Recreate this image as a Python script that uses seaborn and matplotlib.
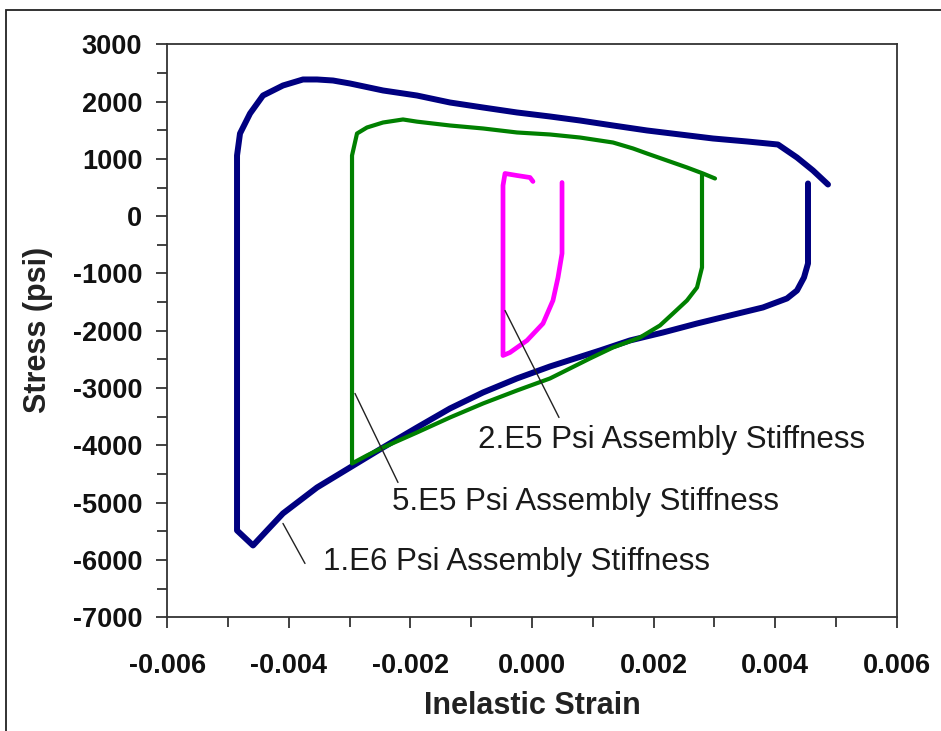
import matplotlib
matplotlib.use("Agg")
import matplotlib.pyplot as plt
import matplotlib.patches as mpatches
from matplotlib.ticker import MultipleLocator, FuncFormatter
import seaborn as sns
import pandas as pd

# ---------------- data ----------------
series_names = ["1.E6 Psi Assembly Stiffness",
                "5.E5 Psi Assembly Stiffness",
                "2.E5 Psi Assembly Stiffness"]

strain_1e6 = [0.004541, 0.004541, 0.004475, 0.004360, 0.004195, 0.003800, 0.003257,
              0.002715, 0.002155, 0.001612, 0.001119, 0.000296, -0.000247, -0.000806,
              -0.001349, -0.001892, -0.002451, -0.002994, -0.003537, -0.004097,
              -0.004360, -0.004590, -0.004853, -0.004853, -0.004804, -0.004639,
              -0.004426, -0.004097, -0.003768, -0.003537, -0.003274, -0.002994,
              -0.002451, -0.001892, -0.001349, -0.000806, -0.000247, 0.000296,
              0.000790, 0.001333, 0.001892, 0.002435, 0.002978, 0.003537, 0.004047,
              0.004360, 0.004623, 0.004870]
stress_1e6 = [571, -825, -1070, -1297, -1436, -1593, -1733,
              -1873, -2030, -2169, -2344, -2623, -2832, -3077,
              -3356, -3688, -4037, -4386, -4735, -5188,
              -5485, -5747, -5485, 1059, 1443, 1792,
              2106, 2281, 2386, 2386, 2368, 2316,
              2194, 2106, 1984, 1897, 1810, 1740,
              1670, 1583, 1496, 1426, 1356, 1304, 1251,
              1024, 798, 553]

strain_5e5 = [0.002797, 0.002797, 0.002715, 0.002550, 0.002320, 0.002106, 0.001777,
              0.001333, 0.000954, 0.000296, -0.000247, -0.000806, -0.001349,
              -0.001892, -0.002451, -0.002715, -0.002961, -0.002961, -0.002879,
              -0.002715, -0.002451, -0.002122, -0.001892, -0.001349, -0.000806,
              -0.000247, 0.000296, 0.000790, 0.001333, 0.001662, 0.001892,
              0.002221, 0.002550, 0.002813, 0.003011]
stress_5e5 = [710, -895, -1244, -1471, -1698, -1907, -2117,
              -2291, -2483, -2832, -3042, -3269, -3513,
              -3775, -4037, -4176, -4316, 1059, 1443,
              1548, 1635, 1688, 1650, 1583, 1531,
              1461, 1426, 1373, 1286, 1182, 1094,
              972, 850, 745, 658]

strain_2e5 = [0.000494, 0.000494, 0.000428, 0.000345, 0.000181, -0.000082,
              -0.000362, -0.000477, -0.000477, -0.000444, -0.000247, -0.000033,
              0.000016]
stress_2e5 = [588, -651, -1070, -1471, -1873, -2169,
              -2379, -2431, 536, 745, 710, 675,
              606]

# leader lines: (point on curve) -> (end near label), and label anchor
leader_from = [(-0.004097, -5363), (-0.002912, -3094), (-0.000444, -1646)]
leader_to = [(-0.003735, -6061), (-0.002205, -4647), (0.000444, -3513)]
label_pos = [(-0.003438, -6044), (-0.002303, -4996), (-0.000888, -3914)]

x_ticks = [-0.006, -0.004, -0.002, 0.000, 0.002, 0.004, 0.006]
y_ticks = [3000, 2000, 1000, 0, -1000, -2000, -3000, -4000, -5000, -6000, -7000]

# ---------------- styling ----------------
colors = ["#000080", "#008000", "#FF00FF"]
widths = [4.3, 3.0, 3.4]

sns.set_theme(style="white")
plt.rcParams["font.family"] = ["Liberation Sans", "DejaVu Sans"]

fig = plt.figure(figsize=(9.41, 7.31), dpi=100)
ax = fig.add_axes([0.1778, 0.1556, 0.7751, 0.7838])

frames = []
for name, sx, sy in zip(series_names,
                        [strain_1e6, strain_5e5, strain_2e5],
                        [stress_1e6, stress_5e5, stress_2e5]):
    frames.append(pd.DataFrame({"strain": sx, "stress": sy, "series": name,
                                "order": range(len(sx))}))
df = pd.concat(frames, ignore_index=True)

for name, c, w in zip(series_names, colors, widths):
    sub = df[df["series"] == name]
    sns.lineplot(data=sub, x="strain", y="stress", sort=False, estimator=None,
                 color=c, linewidth=w, ax=ax, legend=False,
                 solid_joinstyle="round", solid_capstyle="round")

for (fx, fy), (tx, ty), (lx, ly), name in zip(leader_from, leader_to, label_pos, series_names):
    ax.annotate("", xy=(fx, fy), xytext=(tx, ty),
                arrowprops=dict(arrowstyle="-", color="#222222", lw=1.0,
                                shrinkA=0, shrinkB=0))
    ax.text(lx, ly, name, fontsize=22.5, color="#1a1a1a", ha="left", va="center")

ax.set_xlim(-0.006, 0.006)
ax.set_ylim(-7000, 3000)
ax.set_xticks(x_ticks)
ax.set_yticks(y_ticks)
ax.xaxis.set_minor_locator(MultipleLocator(0.001))
ax.yaxis.set_minor_locator(MultipleLocator(500))
ax.xaxis.set_major_formatter(FuncFormatter(lambda v, p: f"{v:.3f}".replace("\u2212", "-")))
ax.yaxis.set_major_formatter(FuncFormatter(lambda v, p: f"{int(round(v))}"))

ax.tick_params(axis="both", which="both", direction="out", color="#333333",
               width=1.3, bottom=True, left=True, top=False, right=False)
ax.tick_params(axis="both", which="major", length=8)
ax.tick_params(axis="both", which="minor", length=7)
ax.tick_params(axis="y", which="major", pad=10)
ax.tick_params(axis="x", which="major", pad=18)
for lab in ax.get_xticklabels() + ax.get_yticklabels():
    lab.set_fontsize(19.5)
    lab.set_fontweight("bold")
    lab.set_color("#111111")

for s in ax.spines.values():
    s.set_visible(True)
    s.set_color("#333333")
    s.set_linewidth(1.3)

ax.set_xlabel("Inelastic Strain", fontsize=22, fontweight="bold", color="#222222")
ax.set_ylabel("Stress (psi)", fontsize=22, fontweight="bold", color="#222222")
ax.xaxis.label.set_va("center")
ax.yaxis.label.set_va("center")
ax.xaxis.set_label_coords(0.5, -0.155)
ax.yaxis.set_label_coords(-0.177, 0.501)
ax.grid(False)

# outer frame of the picture
fig.patches.append(mpatches.Rectangle((6 / 941, -0.02), 1.1, 1.02 - 10 / 731,
                                      transform=fig.transFigure, fill=False,
                                      edgecolor="#222222", linewidth=1.3))

fig.savefig("out.png", dpi=100)
